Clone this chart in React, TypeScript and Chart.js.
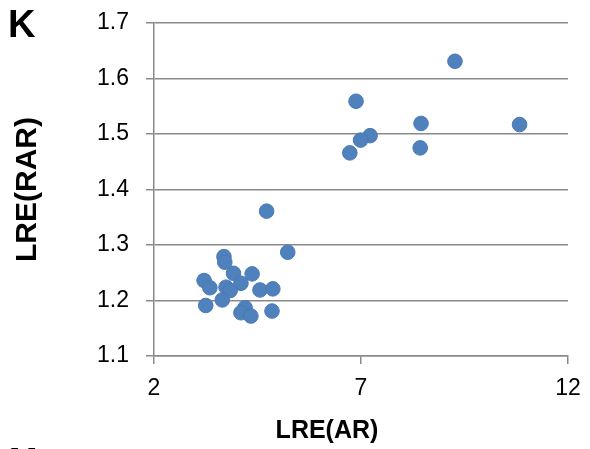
import React, { useEffect, useRef } from "react";
import { Chart, registerables } from "chart.js";

Chart.register(...registerables);

const xValues = [9.27, 6.88, 8.45, 10.83, 7.22, 6.99, 6.73, 8.43, 4.72, 5.23, 3.69, 3.71, 3.92, 4.37, 3.21, 4.10, 3.35, 3.74, 3.84, 4.56, 4.87, 3.65, 3.25, 4.20, 4.10, 4.34, 4.85];
const yValues = [1.631, 1.559, 1.519, 1.517, 1.497, 1.489, 1.466, 1.475, 1.361, 1.287, 1.279, 1.269, 1.249, 1.248, 1.236, 1.231, 1.223, 1.224, 1.218, 1.219, 1.221, 1.201, 1.191, 1.187, 1.178, 1.172, 1.181];
const xTitle = "LRE(AR)";
const yTitle = "LRE(RAR)";
const panelLabel = "K";
const nextPanelLabel = "M";

const FONT = "'Liberation Sans', Arial, sans-serif";
const GRID = "#8a8a8a";

export default function App() {
  const ref = useRef<HTMLCanvasElement | null>(null);

  useEffect(() => {
    if (!ref.current) return;
    const data = xValues.map((x, i) => ({ x, y: yValues[i] }));
    const xTitlePlugin = {
      id: "xTitlePlugin",
      afterDraw(chart: any) {
        const ctx = chart.ctx;
        ctx.save();
        ctx.font = `bold 25px ${FONT}`;
        ctx.fillStyle = "#000";
        ctx.textAlign = "center";
        ctx.textBaseline = "alphabetic";
        ctx.fillText(xTitle, 327, 438);
        ctx.restore();
      },
    };
    const chart = new Chart(ref.current, {
      type: "scatter",
      data: {
        datasets: [
          {
            data,
            backgroundColor: "#4f81bd",
            borderColor: "#4a7ab5",
            borderWidth: 1,
            pointRadius: 7.3,
          },
        ],
      },
      options: {
        animation: false,
        responsive: false,
        layout: { padding: { top: 23, right: 22, left: 0, bottom: 0 } },
        plugins: { legend: { display: false }, tooltip: { enabled: false } },
        scales: {
          x: {
            type: "linear",
            min: 2,
            max: 12,
            afterFit: (s: any) => {
              s.height = 93;
              s.paddingLeft = 0;
              s.paddingRight = 0;
            },
            ticks: {
              stepSize: 5,
              color: "#000",
              font: { family: FONT, size: 23 },
              padding: 11,
            },
            grid: { drawOnChartArea: false, drawTicks: true, tickLength: 8, color: GRID, lineWidth: 1.5 },
            border: { display: true, color: GRID, width: 1.5 },
          },
          y: {
            type: "linear",
            min: 1.1,
            max: 1.7,
            afterFit: (s: any) => {
              s.width = 154;
              s.paddingTop = 0;
              s.paddingBottom = 0;
            },
            ticks: {
              stepSize: 0.1,
              color: "#000",
              font: { family: FONT, size: 23 },
              padding: 17,
              callback: (v: any) => Number(v).toFixed(1),
            },
            grid: { color: GRID, lineWidth: 1.5, tickLength: 8 },
            border: { display: true, color: GRID, width: 1.5 },
            title: {
              display: true,
              text: yTitle,
              color: "#000",
              font: { family: FONT, size: 30, weight: "bold" },
              padding: { top: 10, bottom: 0 },
            },
          },
        },
      },
      plugins: [xTitlePlugin],
    });
    return () => chart.destroy();
  }, []);

  return (
    <div style={{ position: "fixed", left: 0, top: 0, width: 590, height: 449, overflow: "hidden", background: "#fff" }}>
      <canvas ref={ref} width={590} height={449} style={{ width: 590, height: 449, display: "block" }} />
      <div style={{ position: "absolute", left: 8, top: 5, font: `bold 38px ${FONT}`, lineHeight: 1, color: "#000" }}>
        {panelLabel}
      </div>
      <div style={{ position: "absolute", left: 9, top: 442, font: `bold 34px ${FONT}`, lineHeight: 1, color: "#000" }}>
        {nextPanelLabel}
      </div>
    </div>
  );
}
